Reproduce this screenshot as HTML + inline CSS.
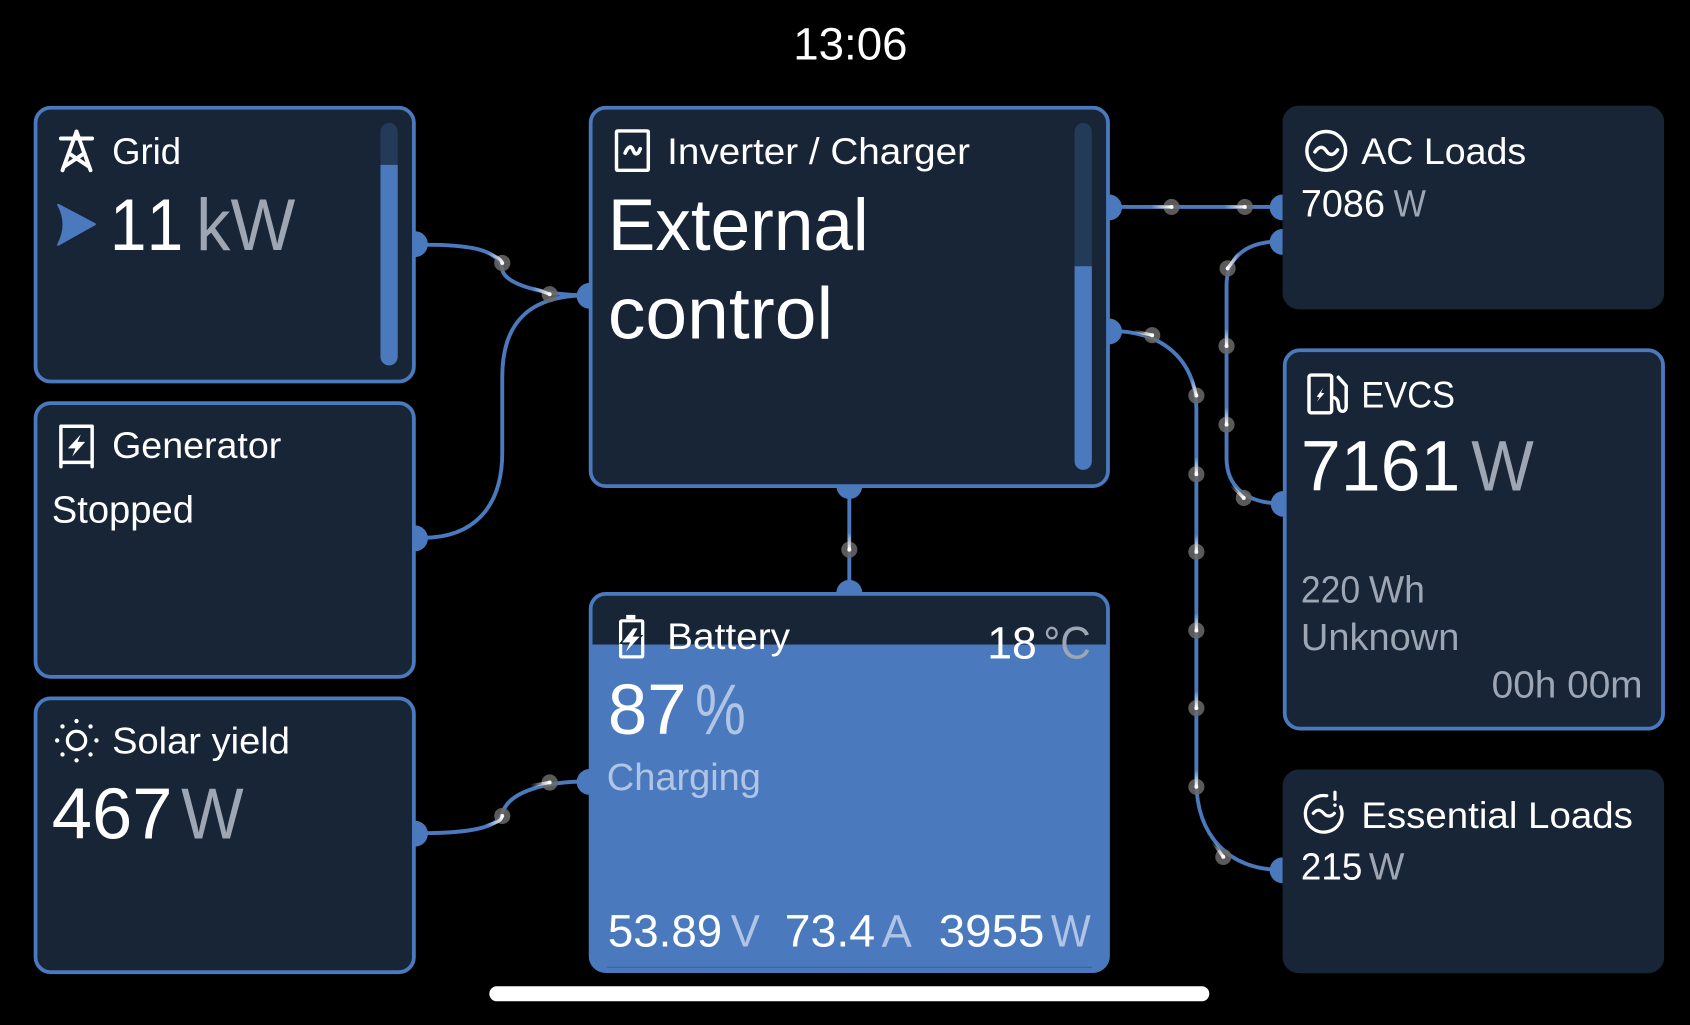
<!DOCTYPE html>
<html><head><meta charset="utf-8">
<style>
html,body{margin:0;padding:0;background:#000;width:1690px;height:1025px;overflow:hidden}
svg{display:block}
text{font-family:"Liberation Sans",sans-serif;fill:#fff;font-kerning:none}
.d{fill:#9da6b2}
.l{fill:#b0c5e6}
.box{fill:#172537}
.b{fill:#172537;stroke:#4a7abd;stroke-width:3.5}
.w{fill:none;stroke:#4a7abd;stroke-width:3.6}
.a{fill:#4a7abd}
.i{fill:none;stroke:#fff;stroke-width:3.2;stroke-linejoin:round;stroke-linecap:round}
.dot{fill:#6a6a6a;fill-opacity:.85}
.c{fill:#fff}
.t{fill:none;stroke-width:3;stroke-linecap:round}
</style></head><body>
<svg width="1690" height="1025" viewBox="0 0 1568 951" xmlns="http://www.w3.org/2000/svg">
<defs>
<linearGradient id="s"><stop offset="0" stop-color="#fff" stop-opacity="0"/><stop offset="1" stop-color="#fff"/></linearGradient>
<linearGradient id="t1" href="#s" gradientUnits="userSpaceOnUse" x1="452" y1="234" x2="466" y2="244"/>
<linearGradient id="t2" href="#s" gradientUnits="userSpaceOnUse" x1="494" y1="267" x2="510" y2="273"/>
<linearGradient id="t3" href="#s" gradientUnits="userSpaceOnUse" x1="450" y1="765" x2="466" y2="757"/>
<linearGradient id="t4" href="#s" gradientUnits="userSpaceOnUse" x1="492" y1="729" x2="510" y2="726"/>
<linearGradient id="t5" href="#s" gradientUnits="userSpaceOnUse" x1="1068" y1="192" x2="1087" y2="192"/>
<linearGradient id="t6" href="#s" gradientUnits="userSpaceOnUse" x1="1136" y1="192" x2="1155" y2="192"/>
<linearGradient id="t7" href="#s" gradientUnits="userSpaceOnUse" x1="1150" y1="234" x2="1139" y2="249"/>
<linearGradient id="t8" href="#s" gradientUnits="userSpaceOnUse" x1="1138" y1="305" x2="1138" y2="321"/>
<linearGradient id="t9" href="#s" gradientUnits="userSpaceOnUse" x1="1138" y1="378" x2="1138" y2="394"/>
<linearGradient id="t10" href="#s" gradientUnits="userSpaceOnUse" x1="1142" y1="450" x2="1154" y2="462"/>
<linearGradient id="t11" href="#s" gradientUnits="userSpaceOnUse" x1="1052" y1="307" x2="1069" y2="311"/>
<linearGradient id="t12" href="#s" gradientUnits="userSpaceOnUse" x1="1106" y1="351" x2="1110" y2="367"/>
<linearGradient id="t13" href="#s" gradientUnits="userSpaceOnUse" x1="1110" y1="424" x2="1110" y2="440"/>
<linearGradient id="t14" href="#s" gradientUnits="userSpaceOnUse" x1="1110" y1="496" x2="1110" y2="512"/>
<linearGradient id="t15" href="#s" gradientUnits="userSpaceOnUse" x1="1110" y1="569" x2="1110" y2="585"/>
<linearGradient id="t16" href="#s" gradientUnits="userSpaceOnUse" x1="1110" y1="641" x2="1110" y2="657"/>
<linearGradient id="t17" href="#s" gradientUnits="userSpaceOnUse" x1="1110" y1="714" x2="1110" y2="730"/>
<linearGradient id="t18" href="#s" gradientUnits="userSpaceOnUse" x1="1125" y1="781" x2="1135" y2="795"/>
<linearGradient id="t19" href="#s" gradientUnits="userSpaceOnUse" x1="788" y1="494" x2="788" y2="510"/>
<linearGradient id="boltedge" gradientUnits="userSpaceOnUse" x1="0" y1="590" x2="0" y2="606"><stop offset=".5" stop-color="#172537"/><stop offset=".5" stop-color="#4a7abd"/></linearGradient>
<clipPath id="bc"><rect x="548" y="550" width="480" height="352" rx="14"/></clipPath>
</defs>
<rect width="1568" height="951" fill="#000"/>

<!-- connectors -->
<path class="w" d="M392 227C435 227 463 231 466 250C468 264 505 274 545 274"/>
<path class="w" d="M392 499C440 499 466 470 466 420V350C466 300 490 274 545 274"/>
<path class="w" d="M392 773C435 773 462 768 466 755C471 735 505 725 545 725"/>
<path class="w" d="M1030 192H1188"/>
<path class="w" d="M1188 224C1155 224 1138 240 1138 265V425C1138 450 1155 467 1188 467"/>
<path class="w" d="M1030 307C1080 307 1110 335 1110 380V725C1110 775 1140 807 1188 807"/>
<path class="w" d="M788 450V552"/>

<!-- boxes -->
<rect class="b" x="33" y="100" width="351" height="254" rx="14"/>
<rect class="b" x="33" y="374" width="351" height="254" rx="14"/>
<rect class="b" x="33" y="648" width="351" height="254" rx="14"/>
<rect class="b" x="548" y="100" width="480" height="351" rx="14"/>
<rect class="box" x="1190" y="98" width="354" height="189" rx="15"/>
<rect class="b" x="1192" y="325" width="351" height="351" rx="14"/>
<rect class="box" x="1190" y="714" width="354" height="189" rx="15"/>
<rect class="b" x="548" y="551" width="480" height="350" rx="14"/>
<rect class="a" x="548" y="598" width="480" height="304" clip-path="url(#bc)"/>
<path d="M563 897.500H1013" stroke="#3a659f" stroke-width="1.200"/>

<!-- anchors -->
<g class="a">
<path d="M385 214.500A12 12 0 0 1 385 238.500Z"/>
<path d="M385 487.500A12 12 0 0 1 385 511.500Z"/>
<path d="M385 761.500A12 12 0 0 1 385 785.500Z"/>
<path d="M547 262.500A12 12 0 0 0 547 286.500Z"/>
<path d="M547 713.500A12 12 0 0 0 547 737.500Z"/>
<path d="M1029 180.500A12 12 0 0 1 1029 204.500Z"/>
<path d="M1029 295.500A12 12 0 0 1 1029 319.500Z"/>
<path d="M1190 180.500A12 12 0 0 0 1190 204.500Z"/>
<path d="M1190 212.500A12 12 0 0 0 1190 236.500Z"/>
<path d="M1191 455.500A12 12 0 0 0 1191 479.500Z"/>
<path d="M1190 795.500A12 12 0 0 0 1190 819.500Z"/>
<path d="M776 451A12 12 0 0 0 800 451Z"/>
<path d="M776 550A12 12 0 0 1 800 550Z"/>
</g>

<!-- dots -->
<g>
<circle class="dot" cx="466" cy="244" r="7.500"/><circle class="c" cx="466" cy="244" r="1.800"/>
<circle class="dot" cx="510" cy="273" r="7.500"/><circle class="c" cx="510" cy="273" r="1.800"/>
<circle class="dot" cx="466" cy="757" r="7.500"/><circle class="c" cx="466" cy="757" r="1.800"/>
<circle class="dot" cx="510" cy="726" r="7.500"/><circle class="c" cx="510" cy="726" r="1.800"/>
<circle class="dot" cx="1087" cy="192" r="7.500"/><circle class="c" cx="1087" cy="192" r="1.800"/>
<circle class="dot" cx="1155" cy="192" r="7.500"/><circle class="c" cx="1155" cy="192" r="1.800"/>
<circle class="dot" cx="1139" cy="249" r="7.500"/><circle class="c" cx="1139" cy="249" r="1.800"/>
<circle class="dot" cx="1138" cy="321" r="7.500"/><circle class="c" cx="1138" cy="321" r="1.800"/>
<circle class="dot" cx="1138" cy="394" r="7.500"/><circle class="c" cx="1138" cy="394" r="1.800"/>
<circle class="dot" cx="1154" cy="462" r="7.500"/><circle class="c" cx="1154" cy="462" r="1.800"/>
<circle class="dot" cx="1069" cy="311" r="7.500"/><circle class="c" cx="1069" cy="311" r="1.800"/>
<circle class="dot" cx="1110" cy="367" r="7.500"/><circle class="c" cx="1110" cy="367" r="1.800"/>
<circle class="dot" cx="1110" cy="440" r="7.500"/><circle class="c" cx="1110" cy="440" r="1.800"/>
<circle class="dot" cx="1110" cy="512" r="7.500"/><circle class="c" cx="1110" cy="512" r="1.800"/>
<circle class="dot" cx="1110" cy="585" r="7.500"/><circle class="c" cx="1110" cy="585" r="1.800"/>
<circle class="dot" cx="1110" cy="657" r="7.500"/><circle class="c" cx="1110" cy="657" r="1.800"/>
<circle class="dot" cx="1110" cy="730" r="7.500"/><circle class="c" cx="1110" cy="730" r="1.800"/>
<circle class="dot" cx="1135" cy="795" r="7.500"/><circle class="c" cx="1135" cy="795" r="1.800"/>
<circle class="dot" cx="788" cy="510" r="7.500"/><circle class="c" cx="788" cy="510" r="1.800"/>
</g>

<!-- white trails -->
<g class="t">
<path stroke="url(#t1)" d="M452 234C460 238 465 240 466 244"/>
<path stroke="url(#t2)" d="M494 267L510 273"/>
<path stroke="url(#t3)" d="M450 766C460 764 465 762 466 757"/>
<path stroke="url(#t4)" d="M492 729L510 726"/>
<path stroke="url(#t5)" d="M1068 192H1087"/>
<path stroke="url(#t6)" d="M1136 192H1155"/>
<path stroke="url(#t7)" d="M1150 234L1139 249"/>
<path stroke="url(#t8)" d="M1138 305V321"/>
<path stroke="url(#t9)" d="M1138 378V394"/>
<path stroke="url(#t10)" d="M1142 450L1154 462"/>
<path stroke="url(#t11)" d="M1052 307L1069 311"/>
<path stroke="url(#t12)" d="M1106 351L1110 367"/>
<path stroke="url(#t13)" d="M1110 424V440"/>
<path stroke="url(#t14)" d="M1110 496V512"/>
<path stroke="url(#t15)" d="M1110 569V585"/>
<path stroke="url(#t16)" d="M1110 641V657"/>
<path stroke="url(#t17)" d="M1110 714V730"/>
<path stroke="url(#t18)" d="M1125 781L1135 795"/>
<path stroke="url(#t19)" d="M788 494V510"/>
</g>

<!-- bars -->
<rect x="353" y="114" width="16" height="225" rx="8" fill="#233a59"/>
<path d="M353 153H369V331A8 8 0 0 1 353 331Z" class="a"/>
<rect x="997" y="114" width="16" height="322" rx="8" fill="#233a59"/>
<path d="M997 247H1013V428A8 8 0 0 1 997 428Z" class="a"/>

<!-- icons -->
<g class="i">
<path stroke-width="3.600" d="M71 122L58 158M71 122L84 158M56.500 128.500H85.500M59 155L77 143M83 155L65 143"/>
<rect x="572" y="121.500" width="29.500" height="36.500" rx="1"/>
<path d="M580 142C583 135 586 135 587.500 139.500C589 144 592 144 594 138" stroke-width="3.400"/>
<path d="M56.500 433V395.500H85.500V433M56.500 429H85.500"/>
<circle cx="71" cy="687" r="8.500" stroke-width="3"/>
<rect x="575.800" y="576" width="20.500" height="33.500" rx="1" stroke-width="3"/>
<circle cx="1230.500" cy="140" r="18"/>
<path d="M1220 141C1224 135 1228 136 1230.500 140C1233 144 1237 145 1241 139"/>
<rect x="1214.500" y="348" width="21" height="35" rx="2"/>
<path d="M1241.700 350L1249 358V377C1249 383 1243 383 1242 378C1241.500 372 1241 370 1238 369"/>
<path d="M1231 738.300A17 17 0 1 0 1243.800 748.500" stroke-width="3"/>
<path d="M1218.500 754.600C1222 750.500 1225 751 1228 754.500C1231 758 1235 758 1238 754.600" stroke-width="3"/>
<path d="M1238.600 735V741.500" stroke-width="3"/>
</g>
<g fill="#fff">
<circle cx="1238.600" cy="747" r="1.600"/>
<circle cx="71" cy="669" r="2"/><circle cx="71" cy="705.500" r="2"/><circle cx="53" cy="687" r="2"/><circle cx="89.500" cy="687" r="2"/>
<circle cx="58" cy="674" r="2"/><circle cx="84" cy="674" r="2"/><circle cx="58" cy="700" r="2"/><circle cx="84" cy="700" r="2"/>
<path d="M75 403L63 416H70L67 423.500L79 410H72Z"/>
<path d="M581 574.500V570.500H589.500V574.500Z"/>
<path d="M587.500 583H591.500L587 590.700H593.500L580.800 604.600L584.500 596H577.400Z" stroke="url(#boltedge)" stroke-width="3" paint-order="stroke"/>
<path d="M1227.800 359.700L1221.700 368L1224.200 368.700L1221.700 372.700L1228.700 365L1225.600 364.300Z"/>
</g>
<path d="M54 190L88 208L54 227Q64 208 54 190Z" fill="#4a7abd" stroke="#4a7abd" stroke-width="2" stroke-linejoin="round"/>

<!-- text -->
<text x="736" y="55" font-size="42" textLength="106" lengthAdjust="spacingAndGlyphs">13:06</text>
<text x="104" y="152" font-size="34" textLength="64" lengthAdjust="spacingAndGlyphs">Grid</text>
<text x="102" y="232" font-size="68" textLength="68" lengthAdjust="spacingAndGlyphs">11</text>
<text class="d" x="182" y="232" font-size="68" textLength="92" lengthAdjust="spacingAndGlyphs">kW</text>
<text x="104" y="425" font-size="34" textLength="157" lengthAdjust="spacingAndGlyphs">Generator</text>
<text x="48" y="485" font-size="35" textLength="132" lengthAdjust="spacingAndGlyphs">Stopped</text>
<text x="104" y="699" font-size="34" textLength="165" lengthAdjust="spacingAndGlyphs">Solar yield</text>
<text x="48" y="778" font-size="67" textLength="112" lengthAdjust="spacingAndGlyphs">467</text>
<text class="d" x="168" y="778" font-size="67" textLength="58" lengthAdjust="spacingAndGlyphs">W</text>
<text x="619" y="152" font-size="34" textLength="281" lengthAdjust="spacingAndGlyphs">Inverter / Charger</text>
<text x="564" y="232" font-size="68" textLength="242" lengthAdjust="spacingAndGlyphs">External</text>
<text x="564" y="314" font-size="68" textLength="209" lengthAdjust="spacingAndGlyphs">control</text>
<text x="619" y="602" font-size="34" textLength="114" lengthAdjust="spacingAndGlyphs">Battery</text>
<text x="916" y="611" font-size="42" textLength="46" lengthAdjust="spacingAndGlyphs">18</text>
<text class="d" x="968" y="611" font-size="42" textLength="44" lengthAdjust="spacingAndGlyphs">°C</text>
<text x="564" y="681" font-size="66" textLength="73" lengthAdjust="spacingAndGlyphs">87</text>
<text class="l" x="645" y="681" font-size="66" textLength="47" lengthAdjust="spacingAndGlyphs">%</text>
<text class="l" x="563" y="733" font-size="35" textLength="143" lengthAdjust="spacingAndGlyphs">Charging</text>
<text x="564" y="878" font-size="42" textLength="106" lengthAdjust="spacingAndGlyphs">53.89</text>
<text class="l" x="678" y="878" font-size="42" textLength="27" lengthAdjust="spacingAndGlyphs">V</text>
<text x="728" y="878" font-size="42" textLength="84" lengthAdjust="spacingAndGlyphs">73.4</text>
<text class="l" x="818" y="878" font-size="42" textLength="28" lengthAdjust="spacingAndGlyphs">A</text>
<text x="871" y="878" font-size="42" textLength="98" lengthAdjust="spacingAndGlyphs">3955</text>
<text class="l" x="975" y="878" font-size="42" textLength="37" lengthAdjust="spacingAndGlyphs">W</text>
<text x="1263" y="152" font-size="34" textLength="153" lengthAdjust="spacingAndGlyphs">AC Loads</text>
<text x="1207" y="201" font-size="35" textLength="78" lengthAdjust="spacingAndGlyphs">7086</text>
<text class="d" x="1293" y="201" font-size="35" textLength="30" lengthAdjust="spacingAndGlyphs">W</text>
<text x="1263" y="378" font-size="34" textLength="87" lengthAdjust="spacingAndGlyphs">EVCS</text>
<text x="1207" y="455" font-size="66" textLength="148" lengthAdjust="spacingAndGlyphs">7161</text>
<text class="d" x="1365" y="455" font-size="66" textLength="58" lengthAdjust="spacingAndGlyphs">W</text>
<text class="d" x="1207" y="559" font-size="35" textLength="55" lengthAdjust="spacingAndGlyphs">220</text>
<text class="d" x="1270" y="559" font-size="35" textLength="52" lengthAdjust="spacingAndGlyphs">Wh</text>
<text class="d" x="1207" y="603" font-size="35" textLength="147" lengthAdjust="spacingAndGlyphs">Unknown</text>
<text class="d" x="1384" y="647" font-size="35" textLength="140" lengthAdjust="spacingAndGlyphs">00h 00m</text>
<text x="1263" y="768" font-size="34" textLength="252" lengthAdjust="spacingAndGlyphs">Essential Loads</text>
<text x="1207" y="816" font-size="35" textLength="57" lengthAdjust="spacingAndGlyphs">215</text>
<text class="d" x="1270" y="816" font-size="35" textLength="33" lengthAdjust="spacingAndGlyphs">W</text>

<!-- home bar -->
<rect x="454" y="915" width="668" height="14" rx="7" fill="#fff"/>
</svg>
</body></html>
